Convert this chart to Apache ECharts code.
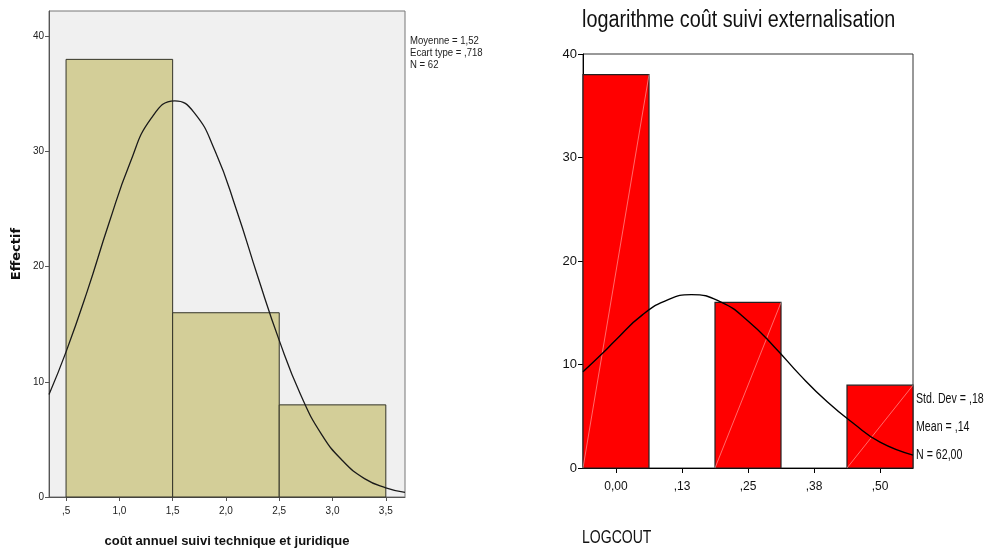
<!DOCTYPE html>
<html>
<head>
<meta charset="utf-8">
<script src="https://cdn.jsdelivr.net/npm/echarts@6/dist/echarts.min.js"></script>
<style>
  html, body { margin: 0; padding: 0; background: #fff; }
  #main { width: 993px; height: 553px; }
</style>
</head>
<body>
<div id="main"></div>
<script>
// --- histogramme de gauche (coût annuel) ---
const leftBinStart = [0.5, 1.5, 2.5]
const leftBinEnd = [1.5, 2.5, 3.5]
const leftCounts = [38, 16, 8]
const leftXTicks = [0.5, 1, 1.5, 2, 2.5, 3, 3.5]
const leftXLabels = [',5', '1,0', '1,5', '2,0', '2,5', '3,0', '3,5']
const leftYTicks = [0, 10, 20, 30, 40]
// courbe normale
const leftCurveX = [0.34, 0.5, 0.7, 0.9, 1.1, 1.3, 1.52, 1.7, 1.9, 2.1, 2.3, 2.5, 2.7, 2.9, 3.1, 3.3, 3.5, 3.68]
const leftCurveY = [8.9, 12.6, 17.9, 23.7, 29.0, 32.9, 34.4, 33.4, 30.0, 24.9, 19.1, 13.6, 8.9, 5.4, 3.1, 1.6, 0.8, 0.4]
const leftStats = ['Moyenne = 1,52', 'Ecart type = ,718', 'N = 62']

// --- histogramme de droite (logarithme) ---
const rightCategories = ['0,00', ',13', ',25', ',38', ',50']
const rightCounts = [38, 0, 16, 0, 8]
const rightCurveX = [-0.0625, -0.025, 0, 0.05, 0.1, 0.1426, 0.2, 0.25, 0.3, 0.35, 0.4, 0.45, 0.5, 0.5625]
const rightCurveY = [9.3, 11.1, 12.4, 14.8, 16.3, 16.75, 16.0, 14.2, 11.7, 8.9, 6.4, 4.3, 2.5, 1.25]
const rightStats = ['Std. Dev = ,18', 'Mean = ,14', 'N = 62,00']

const FONT = '"Liberation Sans", Arial, sans-serif'

const chart = echarts.init(document.getElementById('main'))

const option = {
  animation: false,
  backgroundColor: '#fff',
  grid: [
    { left: 49, top: 11, width: 356, height: 486, show: true, backgroundColor: '#f0f0f0', borderColor: '#777', borderWidth: 1 },
    { left: 583, top: 54, width: 330, height: 414, show: true, backgroundColor: '#fff', borderColor: '#333', borderWidth: 1 }
  ],
  xAxis: [
    {
      gridIndex: 0,
      type: 'value',
      min: 0.34,
      max: 3.68,
      name: 'coût annuel suivi technique et juridique',
      nameLocation: 'middle',
      nameGap: 38,
      nameTextStyle: { fontFamily: FONT, fontSize: 13, fontWeight: 'bold', color: '#111' },
      axisLine: { onZero: false, lineStyle: { color: '#555' } },
      axisTick: { customValues: leftXTicks, length: 4, lineStyle: { color: '#555' } },
      axisLabel: {
        customValues: leftXTicks,
        margin: 9,
        fontFamily: FONT,
        fontSize: 10,
        color: '#222',
        formatter: v => leftXLabels[leftXTicks.indexOf(v)]
      },
      splitLine: { show: false }
    },
    {
      gridIndex: 1,
      type: 'category',
      data: rightCategories,
      axisLine: { onZero: false, lineStyle: { color: '#000' } },
      axisTick: { show: true, alignWithLabel: true, length: 5, lineStyle: { color: '#000' } },
      axisLabel: { margin: 13, fontFamily: FONT, fontSize: 12, color: '#111' },
      splitLine: { show: false }
    },
    {
      gridIndex: 1,
      type: 'value',
      min: -0.0625,
      max: 0.5625,
      show: false
    }
  ],
  yAxis: [
    {
      gridIndex: 0,
      type: 'value',
      min: 0,
      max: 42.2,
      name: 'Effectif',
      nameLocation: 'middle',
      nameGap: 26,
      nameRotate: 90,
      nameTextStyle: { fontFamily: '"DejaVu Sans", sans-serif', fontSize: 13, fontWeight: 'bold', color: '#111' },
      axisLine: { show: true, onZero: false, lineStyle: { color: '#555' } },
      axisTick: { show: true, customValues: leftYTicks, length: 4, lineStyle: { color: '#555' } },
      axisLabel: { customValues: leftYTicks, margin: 5, fontFamily: FONT, fontSize: 10, color: '#222' },
      splitLine: { show: false }
    },
    {
      gridIndex: 1,
      type: 'value',
      min: 0,
      max: 40,
      interval: 10,
      axisLine: { show: true, onZero: false, lineStyle: { color: '#000' } },
      axisTick: { show: true, length: 5, lineStyle: { color: '#000' } },
      axisLabel: { margin: 6, fontFamily: FONT, fontSize: 13, color: '#111' },
      splitLine: { show: false }
    }
  ],
  series: [
    {
      type: 'custom',
      xAxisIndex: 0,
      yAxisIndex: 0,
      data: leftBinStart.map((s, i) => [s, leftBinEnd[i], leftCounts[i]]),
      encode: { x: [0, 1], y: 2 },
      renderItem: (params, api) => {
        const top = api.coord([api.value(0), api.value(2)])
        const bottom = api.coord([api.value(1), 0])
        return {
          type: 'rect',
          shape: { x: top[0], y: top[1], width: bottom[0] - top[0], height: bottom[1] - top[1] },
          style: { fill: '#d3ce98', stroke: '#333328', lineWidth: 1 }
        }
      }
    },
    {
      type: 'line',
      xAxisIndex: 0,
      yAxisIndex: 0,
      data: leftCurveX.map((x, i) => [x, leftCurveY[i]]),
      smooth: true,
      showSymbol: false,
      lineStyle: { color: '#1a1a1a', width: 1.3 },
      z: 5
    },
    {
      type: 'custom',
      xAxisIndex: 1,
      yAxisIndex: 1,
      data: rightCounts.map((c, i) => [i, c]),
      renderItem: (params, api) => {
        if (!api.value(1)) return null
        const top = api.coord([api.value(0), api.value(1)])
        const base = api.coord([api.value(0), 0])
        const w = api.size([1, 0])[0]
        const x0 = top[0] - w / 2
        return {
          type: 'group',
          children: [
            {
              type: 'rect',
              shape: { x: x0, y: top[1], width: w, height: base[1] - top[1] },
              style: { fill: '#ff0000', stroke: '#222', lineWidth: 1.2 }
            },
            {
              type: 'line',
              shape: { x1: x0, y1: base[1], x2: x0 + w, y2: top[1] },
              style: { stroke: 'rgba(255,210,210,0.85)', lineWidth: 0.6 }
            }
          ]
        }
      }
    },
    {
      type: 'line',
      xAxisIndex: 2,
      yAxisIndex: 1,
      data: rightCurveX.map((x, i) => [x, rightCurveY[i]]),
      smooth: true,
      showSymbol: false,
      lineStyle: { color: '#000', width: 1.4 },
      z: 5
    }
  ],
  graphic: [
    {
      type: 'text',
      x: 582,
      y: 9,
      scaleX: 0.86,
      style: { text: 'logarithme coût suivi externalisation', fontFamily: FONT, fontSize: 23, fill: '#111' }
    },
    {
      type: 'text',
      x: 410,
      y: 35,
      scaleX: 0.87,
      style: { text: leftStats.join('\n'), fontFamily: FONT, fontSize: 11, lineHeight: 12, fill: '#222' }
    },
    {
      type: 'text',
      x: 916,
      y: 385,
      scaleX: 0.76,
      style: { text: rightStats.join('\n'), fontFamily: FONT, fontSize: 14, lineHeight: 28, fill: '#111' }
    },
    {
      type: 'text',
      x: 582,
      y: 529,
      scaleX: 0.78,
      style: { text: 'LOGCOUT', fontFamily: FONT, fontSize: 18, fill: '#111' }
    }
  ]
}

chart.setOption(option)
</script>
</body>
</html>
